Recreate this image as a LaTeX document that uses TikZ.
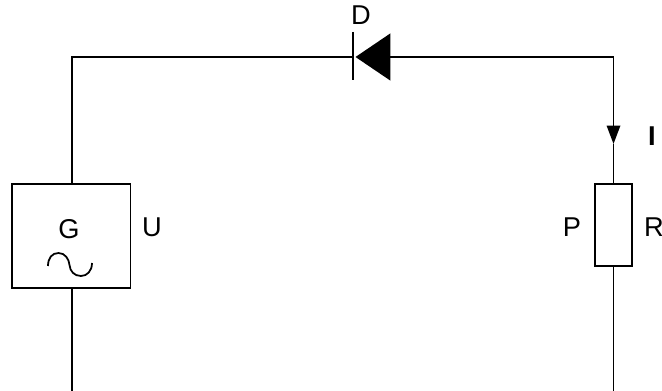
\documentclass[tikz,border=0pt]{standalone}
\usepackage{fontspec}
\setmainfont{Liberation Sans}
\usetikzlibrary{arrows.meta,calc,positioning}
\tikzstyle{wire}  =[line width=1pt, line join=miter]
\tikzstyle{block} =[rectangle, draw, line width=1pt, inner sep=0pt,
                    outer sep=0pt]
\tikzstyle{lbl}   =[inner sep=0pt, outer sep=0pt, font=\fontsize{15.5}{15.5}\selectfont]

\begin{document}
\begin{tikzpicture}[x=0.02cm, y=-0.02cm, wire]
            \useasboundingbox (0,0) rectangle (662,391);

            \node[block, minimum width=2.37cm, minimum height=2.08cm] (gen) at (71.25,236) {};
            \node[block, minimum width=0.74cm, minimum height=1.64cm] (load) at (613.5,225) {};

            \coordinate (corner1) at (72,57);
            \coordinate (corner2) at (613.5,57);
            \coordinate (barTop) at (353,32);
            \coordinate (barBot) at (353,80);
            \coordinate (barMid) at (353,57);
            \coordinate (apex) at (355.5,57);
            \coordinate (tip) at (613.5,144);
            \coordinate (end1) at (72,391);
            \coordinate (end2) at (613.5,391);

            \node[lbl] (labD) at (361,15) {D};
            \node[lbl] (labG) at (69,229) {G};
            \node[lbl] (labU) at (152,227) {U};
            \node[lbl, font=\fontsize{15.5}{15.5}\selectfont\bfseries] (labI) at (652,136) {I};
            \node[lbl] (labP) at (572,227) {P};
            \node[lbl] (labR) at (654,227) {R};

            \draw (gen.north -| corner1) -- (corner1) -- (barMid);
            \draw (barTop) -- (barBot);
            \draw[-{Triangle[length=0.70cm, width=0.94cm]}] (corner2) -- (apex);
            \draw[-{Triangle[length=0.37cm, width=0.27cm]}] (corner2) -- (tip);
            \draw (tip) -- (load.north);
            \draw (gen.south -| end1) -- (end1);
            \draw (load.south) -- (end2);

            % sine inside the generator
            \draw (48,266) .. controls (48,258) and (52,253) .. (58.5,253)
                           .. controls (65,253) and (69,259) .. (69.5,265)
                           .. controls (70,271) and (74,276) .. (81,276)
                           .. controls (87,276) and (92,271) .. (92,263);
        \end{tikzpicture}
\end{document}
